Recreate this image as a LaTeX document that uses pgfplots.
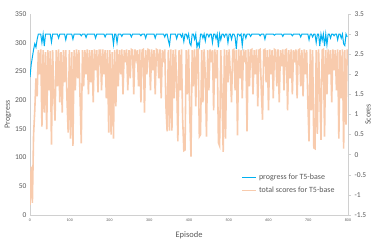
\documentclass[border=0pt]{standalone}
\usepackage{pgfplots}
\usepackage{pgfplotstable}
\pgfplotsset{compat=1.18}
\usepackage{fontspec}
\setmainfont{Carlito}
\definecolor{pblue}{HTML}{00B0F0}
\definecolor{porange}{HTML}{F8CBAD}
\definecolor{txt}{HTML}{595959}
\definecolor{axl}{HTML}{D0D0D0}
\pgfplotstableread{
ep s p
0 -1.25 240
3 -0.3 262
6 -1.2 275
9 0.5 288
12 1.1 298
15 1.9 292
18 1.45 306
21 2.6 315
24 2.0 315
27 2.62 315
30 0.7 300
33 2.6 315
36 1.05 294
39 2.55 315
42 0.63 315
45 2.6 315
48 1.6 315
51 2.58 315
54 0.25 301
57 2.6 315
60 1.5 315
63 0.85 315
66 2.6 315
69 1.7 315
72 2.62 308
75 1.3 315
78 2.55 315
81 1.05 315
84 2.6 315
87 1.8 315
90 2.6 305
93 1.4 315
96 0.55 315
99 2.6 315
102 0.4 315
105 2.55 315
108 0.22 306
111 2.6 315
114 1.6 315
117 2.62 315
120 1.9 315
123 2.6 315
126 1.4 315
129 0.28 312
132 2.6 315
135 1.7 315
138 2.6 315
141 2.0 309
144 2.62 315
147 1.5 315
150 2.6 315
153 1.8 315
156 2.6 315
159 1.3 315
162 2.62 315
165 2.1 308
168 2.6 315
171 1.55 315
174 2.6 315
177 2.6 315
180 1.6 315
183 2.62 315
186 2.0 315
189 2.6 310
192 1.4 315
195 2.6 315
198 0.55 315
201 2.6 315
204 0.5 315
207 2.55 315
210 0.4 297
213 2.6 315
216 1.2 315
219 2.62 300
222 1.7 315
225 2.6 315
228 2.0 315
231 2.62 311
234 1.5 315
237 2.6 315
240 2.3 315
243 2.62 315
246 1.6 315
249 2.6 315
252 1.9 315
255 2.62 310
258 2.6 315
261 1.5 315
264 2.62 315
267 2.4 315
270 2.6 315
273 1.7 315
276 2.62 315
279 1.3 312
282 2.6 315
285 2.62 315
288 1.05 315
291 2.6 308
294 2.0 315
297 2.62 315
300 2.6 315
303 1.6 315
306 2.62 315
309 2.1 315
312 2.6 315
315 1.5 308
318 2.62 315
321 2.6 315
324 1.9 315
327 2.62 315
330 1.4 315
333 2.6 315
336 2.3 315
339 2.62 310
342 1.2 315
345 0.58 315
348 2.6 304
351 0.6 296
354 2.62 315
357 0.6 315
360 2.6 315
363 1.4 315
366 2.62 315
369 1.8 307
372 0.33 315
375 2.6 315
378 1.6 315
381 2.62 310
384 0.9 315
387 0.1 302
390 0.12 315
393 2.6 315
396 1.5 308
399 2.62 315
402 1.0 299
405 -0.05 295
408 2.6 315
411 1.7 315
414 2.62 306
417 1.2 315
420 2.6 292
423 2.62 300
426 0.45 293
429 0.5 315
432 2.6 315
435 1.3 308
438 2.62 315
441 2.0 303
444 0.45 315
447 2.6 315
450 1.6 310
453 2.62 315
456 2.3 315
459 2.6 300
462 1.1 315
465 2.62 315
468 1.9 307
471 2.6 315
474 0.3 292
477 0.22 315
480 2.6 305
483 1.5 315
486 0.07 315
489 2.62 310
492 0.4 315
495 2.6 315
498 1.8 300
501 2.62 315
504 2.0 315
507 1.3 306
510 2.6 315
513 2.62 315
516 1.6 310
519 2.6 289
522 0.48 315
525 2.62 315
528 1.9 312
531 2.6 315
534 1.4 295
537 2.62 315
540 2.3 315
543 2.6 308
546 0.58 315
549 2.62 315
552 1.7 315
555 2.6 311
558 2.62 315
561 1.5 315
564 2.6 315
567 2.0 315
570 2.62 315
573 1.2 315
576 2.6 315
579 2.62 312
582 1.6 315
585 0.87 315
588 2.6 315
591 2.62 306
594 1.8 315
597 2.6 315
600 1.1 315
603 2.62 315
606 2.0 315
609 2.6 315
612 1.4 315
615 2.62 313
618 2.6 315
621 1.7 315
624 2.62 315
627 1.3 315
630 2.6 315
633 2.2 315
636 2.62 311
639 1.6 315
642 2.6 315
645 2.62 315
648 1.1 315
651 2.6 315
654 1.9 315
657 2.62 315
660 1.5 312
663 2.6 315
666 2.3 315
669 2.62 315
672 1.4 315
675 2.6 315
678 2.62 315
681 1.7 310
684 2.6 315
687 1.45 315
690 2.62 315
693 2.0 315
696 2.6 315
699 1.3 315
702 0.33 305
705 2.62 315
708 1.1 315
711 2.6 310
714 0.17 315
717 0.15 315
720 2.6 300
723 0.52 315
726 2.62 315
729 1.6 294
732 0.37 315
735 2.6 304
738 2.62 315
741 0.45 294
744 2.6 315
747 1.5 296
750 2.62 315
753 2.0 315
756 2.6 308
759 1.3 315
762 2.62 315
765 2.1 312
768 2.6 315
771 1.6 315
774 2.62 305
777 0.4 315
780 2.6 315
783 1.4 308
786 2.62 315
789 0.15 298
792 2.6 295
795 0.75 315
798 2.62 310
}\datatable
\begin{document}
\begin{tikzpicture}
\pgfplotsset{
  every axis/.append style={
    scale only axis, width=318bp, height=201bp,
    xmin=0, xmax=800,
    /pgf/number format/assume math mode=true,
    tick label style={text=txt},
    label style={text=txt},
    axis line style={axl, line width=0.6pt},
  }
}
\begin{axis}[
  at={(30bp,32bp)}, anchor=south west,
  ymin=0, ymax=350,
  axis x line*=bottom, axis y line*=left,
  xtick={0,100,...,800},
  ytick={0,50,...,350},
  major tick length=0pt,
  xticklabel style={font=\fontsize{4}{5}\selectfont},
  yticklabel style={font=\fontsize{7.5}{8}\selectfont},
  xlabel={Episode}, ylabel={Progress},
  xlabel style={font=\fontsize{8.5}{10}\selectfont, at={(axis description cs:0.5,0)}, anchor=north, yshift=-13bp},
  ylabel style={font=\fontsize{8}{10}\selectfont, at={([xshift=-22bp]axis description cs:0,0.5)}, anchor=center},
  xtick pos=bottom, ytick pos=left,
]
\addplot[color=pblue, line width=1.0pt, no marks] table[x=ep, y=p] {\datatable};
\end{axis}
\begin{axis}[
  at={(30bp,32bp)}, anchor=south west,
  ymin=-1.5, ymax=3.5,
  axis y line*=right, axis x line=none,
  ytick={-1.5,-1,...,3.5},
  yticklabels={-1.5,-1,-0.5,0,0.5,1,1.5,2,2.5,3,3.5},
  tick align=outside, major tick length=3bp,
  tick style={axl, line width=0.6pt},
  yticklabel style={font=\fontsize{7.5}{8}\selectfont},
  ylabel={Scores},
  ylabel style={font=\fontsize{8}{10}\selectfont, at={([xshift=20bp]axis description cs:1,0.5)}, anchor=center},
  legend style={draw=none, fill=none, at={(0.655,0.225)}, anchor=north west,
    font=\fontsize{8}{9}\selectfont, row sep=2pt,
    legend cell align=left},
  legend image code/.code={\draw[#1] (0bp,0bp) -- (14bp,0bp);},
]
\addlegendimage{draw=pblue, line width=1.2pt}
\addlegendentry{\textcolor{txt}{progress for T5-base}}
\addplot[draw=porange, line width=1.6pt, no marks] table[x=ep, y=s] {\datatable};
\addlegendentry{\textcolor{txt}{total scores for T5-base}}
\end{axis}
\pgfresetboundingbox
\path (0,0) rectangle (374bp,247bp);
\end{tikzpicture}
\end{document}
